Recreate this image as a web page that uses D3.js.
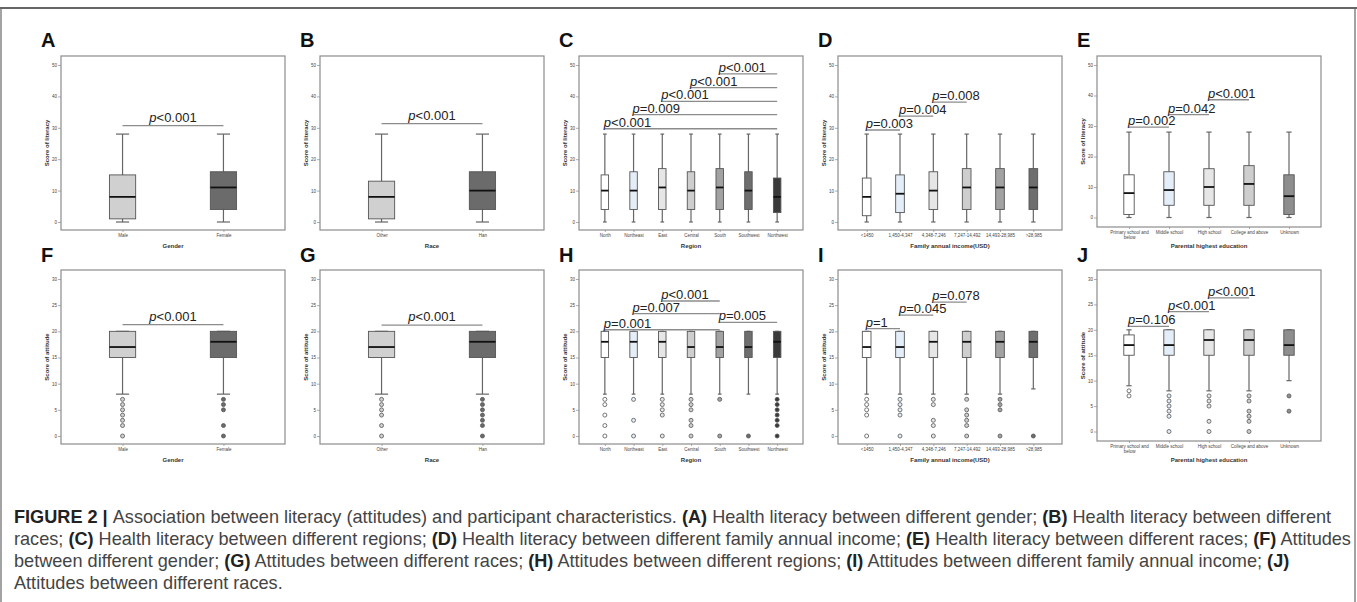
<!DOCTYPE html>
<meta charset="utf-8">
<style>
body { margin: 0; background: #fff; }
svg { display: block; font-family: "Liberation Sans", Arial, sans-serif; }
.frame { fill: none; stroke: #8c8c8c; stroke-width: 1.2px; }
.axis path { display: none; }
.axis line { stroke: #777; stroke-width: 0.6px; }
.axis text { font-size: 4.5px; fill: #444; font-family: "Liberation Sans", Arial, sans-serif; }
.ttl { font-size: 6px; font-weight: bold; fill: #333; }
.whisk { stroke: #666; stroke-width: 1.2px; }
.box { stroke: #555; stroke-width: 0.9px; }
.med { stroke: #111; stroke-width: 1.8px; }
.br { stroke: #8c8c8c; stroke-width: 1.3px; }
.pv { font-size: 13px; fill: #222; }
.lab { font-size: 20px; font-weight: bold; fill: #111; }
</style>
<svg width="1357" height="602"></svg>
<script src="https://cdn.jsdelivr.net/npm/d3@7"></script>
<script>

// categories
var genderCats = ["Male", "Female"];
var raceCats = ["Other", "Han"];
var regionCats = ["North", "Northeast", "East", "Central", "South", "Southwest", "Northwest"];
var incomeCats = ["<1450", "1,450-4,347", "4,348-7,246", "7,247-14,492", "14,493-28,985", ">28,985"];
var eduCats = ["Primary school and below", "Middle school", "High school", "College and above", "Unknown"];

var litTicks = [0, 10, 20, 30, 40, 50];
var attTicks = [0, 5, 10, 15, 20, 25, 30];

// literacy score boxes: [lower whisker, q1, median, q3, upper whisker]
var litGender = [[0, 1, 8, 15, 28], [0, 4, 11, 16, 28]];
var litRace = [[0, 1, 8, 13, 28], [0, 4, 10, 16, 28]];
var litRegion = [[0, 4, 10, 15, 28], [0, 4, 10, 16, 28], [0, 4, 11, 17, 28], [0, 4, 10, 16, 28],
                 [0, 4, 11, 17, 28], [0, 4, 10, 16, 28], [0, 3, 8, 14, 28]];
var litIncome = [[0, 2, 8, 14, 28], [0, 3, 9, 15, 28], [0, 4, 10, 16, 28], [0, 4, 11, 17, 28],
                 [0, 4, 11, 17, 28], [0, 4, 11, 17, 28]];
var litEdu = [[0, 1, 8, 14, 28], [0, 4, 9, 15, 28], [0, 4, 10, 16, 28], [0, 4, 11, 17, 28], [0, 1, 7, 14, 28]];

// attitude score boxes + outliers
var attGender = [[8, 15, 17, 20, 20], [8, 15, 18, 20, 20]];
var attGenderOut = [[7, 6, 5, 4, 3, 2, 0], [7, 6, 5, 2, 0]];
var attRace = [[8, 15, 17, 20, 20], [8, 15, 18, 20, 20]];
var attRaceOut = [[7, 6, 5, 4, 2, 0], [7, 6, 5, 4, 3, 2, 0]];
var attRegion = [[8, 15, 18, 20, 20], [8, 15, 18, 20, 20], [8, 15, 18, 20, 20], [8, 15, 17, 20, 20],
                 [8, 15, 17, 20, 20], [8, 15, 17, 20, 20], [8, 15, 18, 20, 20]];
var attRegionOut = [[7, 6, 4, 2, 0], [7, 3, 0], [7, 6, 5, 4, 0], [7, 6, 5, 3, 2, 0], [7, 0], [0], [7, 6, 5, 4, 3, 2, 0]];
var attIncome = [[8, 15, 17, 20, 20], [8, 15, 17, 20, 20], [8, 15, 18, 20, 20], [8, 15, 18, 20, 20],
                 [8, 15, 18, 20, 20], [9, 15, 18, 20, 20]];
var attIncomeOut = [[7, 6, 5, 4, 0], [7, 6, 5, 4, 0], [7, 6, 3, 2, 0], [7, 5, 4, 3, 2, 0], [7, 6, 5, 0], [0]];
var attEdu = [[9, 15, 17, 19, 20], [8, 15, 17, 20, 20], [8, 15, 18, 20, 20], [8, 15, 18, 20, 20], [10, 15, 17, 20, 20]];
var attEduOut = [[8, 7], [7, 6, 5, 4, 3, 0], [7, 6, 5, 2, 0], [7, 6, 4, 3, 2, 0], [7, 4]];

// p-value brackets (a,b = category index, y = score)
var litGenderP = [{a: 0, b: 1, y: 30.7, t: "<0.001"}];
var litRaceP = [{a: 0, b: 1, y: 31.3, t: "<0.001"}];
var litRegionP = [{a: 0, b: 6, y: 29.7, t: "<0.001"}, {a: 1, b: 6, y: 34.2, t: "=0.009"},
                  {a: 2, b: 6, y: 38.4, t: "<0.001"}, {a: 3, b: 6, y: 42.8, t: "<0.001"},
                  {a: 4, b: 6, y: 47.2, t: "<0.001"}];
var litIncomeP = [{a: 0, b: 1, y: 29.3, t: "=0.003"}, {a: 1, b: 2, y: 33.7, t: "=0.004"}, {a: 2, b: 3, y: 38.2, t: "=0.008"}];
var litEduP = [{a: 0, b: 1, y: 29.6, t: "=0.002"}, {a: 1, b: 2, y: 33.7, t: "=0.042"}, {a: 2, b: 3, y: 38.6, t: "<0.001"}];
var attGenderP = [{a: 0, b: 1, y: 21.3, t: "<0.001"}];
var attRaceP = [{a: 0, b: 1, y: 21.2, t: "<0.001"}];
var attRegionP = [{a: 0, b: 4, y: 20.3, t: "=0.001"}, {a: 1, b: 4, y: 23.4, t: "=0.007"},
                  {a: 2, b: 4, y: 25.8, t: "<0.001"}, {a: 4, b: 6, y: 21.7, t: "=0.005"}];
var attIncomeP = [{a: 0, b: 1, y: 20.5, t: "=1"}, {a: 1, b: 2, y: 23.1, t: "=0.045"}, {a: 2, b: 3, y: 25.6, t: "=0.078"}];
var attEduP = [{a: 0, b: 1, y: 20.7, t: "=0.106"}, {a: 1, b: 2, y: 23.6, t: "<0.001"}, {a: 2, b: 3, y: 26.3, t: "<0.001"}];

var fills2 = ["#d0d0d0", "#6b6b6b"];
var fills7 = ["#ffffff", "#e4eef9", "#e6e6e6", "#cecece", "#a2a2a2", "#6e6e6e", "#3a3a3a"];
var fills6 = ["#ffffff", "#e4eef9", "#e6e6e6", "#cecece", "#a2a2a2", "#6e6e6e"];
var fills5 = ["#ffffff", "#e4eef9", "#e6e6e6", "#cecece", "#8e8e8e"];

var lefts = [61, 320, 579, 838, 1097];
var rows = [
  {top: 56, bottom: 230, zero: 222, max: 50, ticks: litTicks, ytitle: "Score of literacy", titleY: 248, labelY: 47},
  {top: 270, bottom: 444, zero: 436, max: 30, ticks: attTicks, ytitle: "Score of attitude", titleY: 462, labelY: 262}
];

var panels = [
  {k: "A", r: 0, c: 0, cats: genderCats, s: litGender, o: null, f: fills2, p: litGenderP, mid: true, pad: 0.61, xt: "Gender"},
  {k: "B", r: 0, c: 1, cats: raceCats, s: litRace, o: null, f: fills2, p: litRaceP, mid: true, pad: 0.61, xt: "Race"},
  {k: "C", r: 0, c: 2, cats: regionCats, s: litRegion, o: null, f: fills7, p: litRegionP, pad: 0.9, xt: "Region"},
  {k: "D", r: 0, c: 3, cats: incomeCats, s: litIncome, o: null, f: fills6, p: litIncomeP, pad: 0.86, xt: "Family annual income(USD)"},
  {k: "E", r: 0, c: 4, cats: eduCats, s: litEdu, o: null, f: fills5, p: litEduP, pad: 0.8, xt: "Parental highest education", short: true},
  {k: "F", r: 1, c: 0, cats: genderCats, s: attGender, o: attGenderOut, f: fills2, p: attGenderP, mid: true, pad: 0.61, xt: "Gender"},
  {k: "G", r: 1, c: 1, cats: raceCats, s: attRace, o: attRaceOut, f: fills2, p: attRaceP, mid: true, pad: 0.61, xt: "Race"},
  {k: "H", r: 1, c: 2, cats: regionCats, s: attRegion, o: attRegionOut, f: fills7, p: attRegionP, pad: 0.9, xt: "Region"},
  {k: "I", r: 1, c: 3, cats: incomeCats, s: attIncome, o: attIncomeOut, f: fills6, p: attIncomeP, pad: 0.86, xt: "Family annual income(USD)"},
  {k: "J", r: 1, c: 4, cats: eduCats, s: attEdu, o: attEduOut, f: fills5, p: attEduP, pad: 0.8, xt: "Parental highest education", short: true}
];

var svg = d3.select("svg");
svg.append("rect").attr("width", 1357).attr("height", 602).attr("fill", "#fff");

// figure border
svg.append("line").attr("x1", 0).attr("x2", 1357).attr("y1", 8).attr("y2", 8).attr("stroke", "#333").attr("stroke-width", 1.5);
svg.append("line").attr("x1", 1355).attr("x2", 1355).attr("y1", 8).attr("y2", 602).attr("stroke", "#666").attr("stroke-width", 1.2);
svg.append("line").attr("x1", 1).attr("x2", 1).attr("y1", 8).attr("y2", 602).attr("stroke", "#666").attr("stroke-width", 1.2);

panels.forEach(drawPanel);

function drawPanel(p) {
  var row = rows[p.r],
      left = lefts[p.c],
      width = 224,
      top = row.top,
      bottom = p.short ? row.bottom - 3 : row.bottom,
      zero = p.short ? row.zero - 4.5 : row.zero;

  var x = d3.scalePoint().domain(p.cats).range([left, left + width]).padding(p.pad);
  var y = d3.scaleLinear().domain([0, row.max]).range([zero, top + 9]);
  var bw = x.step() * 0.26;
  var g = svg.append("g");

  g.append("text").attr("class", "lab").attr("x", left - 20).attr("y", row.labelY).text(p.k);

  // y axis
  g.append("g").attr("class", "axis")
      .attr("transform", "translate(" + left + ",0)")
      .call(d3.axisLeft(y).tickValues(row.ticks).tickSize(3).tickPadding(1));

  // x axis
  var xa = g.append("g").attr("class", "axis")
      .attr("transform", "translate(0," + bottom + ")")
      .call(d3.axisBottom(x).tickSize(2).tickPadding(2));
  xa.selectAll(".tick text").each(function(d) {
    var t = d3.select(this);
    if (d.length > 20) {
      var i = d.lastIndexOf(" ");
      t.text(null);
      t.append("tspan").attr("x", 0).text(d.slice(0, i));
      t.append("tspan").attr("x", 0).attr("dy", "1.05em").text(d.slice(i + 1));
    }
  });

  g.append("text").attr("class", "ttl")
      .attr("x", left + width / 2).attr("y", row.titleY)
      .attr("text-anchor", "middle").text(p.xt);

  g.append("text").attr("class", "ttl")
      .attr("transform", "translate(" + (left - 12) + "," + ((top + bottom) / 2) + ") rotate(-90)")
      .attr("text-anchor", "middle").text(row.ytitle);

  g.append("rect").attr("class", "frame")
      .attr("x", left).attr("y", top).attr("width", width).attr("height", bottom - top);

  var b = g.selectAll(".bx").data(p.s).enter().append("g");

  b.append("line").attr("class", "whisk")
      .attr("x1", function(d, i) { return x(p.cats[i]); })
      .attr("x2", function(d, i) { return x(p.cats[i]); })
      .attr("y1", function(d) { return y(d[0]); })
      .attr("y2", function(d) { return y(d[4]); });
  [0, 4].forEach(function(j) {
    b.append("line").attr("class", "whisk")
        .attr("x1", function(d, i) { return x(p.cats[i]) - bw / 4; })
        .attr("x2", function(d, i) { return x(p.cats[i]) + bw / 4; })
        .attr("y1", function(d) { return y(d[j]); })
        .attr("y2", function(d) { return y(d[j]); });
  });
  b.append("rect").attr("class", "box")
      .attr("x", function(d, i) { return x(p.cats[i]) - bw / 2; })
      .attr("width", bw)
      .attr("y", function(d) { return y(d[3]); })
      .attr("height", function(d) { return y(d[1]) - y(d[3]); })
      .attr("fill", function(d, i) { return p.f[i]; });
  b.append("line").attr("class", "med")
      .attr("x1", function(d, i) { return x(p.cats[i]) - bw / 2; })
      .attr("x2", function(d, i) { return x(p.cats[i]) + bw / 2; })
      .attr("y1", function(d) { return y(d[2]); })
      .attr("y2", function(d) { return y(d[2]); });

  if (p.o) {
    p.o.forEach(function(vals, i) {
      g.selectAll(null).data(vals).enter().append("circle")
          .attr("cx", x(p.cats[i]))
          .attr("cy", function(v) { return y(v); })
          .attr("r", 2)
          .attr("fill", p.f[i])
          .attr("stroke", "#555")
          .attr("stroke-width", 0.8);
    });
  }

  // p-value brackets
  p.p.forEach(function(q) {
    var x1 = x(p.cats[q.a]), x2 = x(p.cats[q.b]), yy = y(q.y);
    g.append("line").attr("class", "br").attr("x1", x1).attr("x2", x2).attr("y1", yy).attr("y2", yy);
    var t = g.append("text").attr("class", "pv");
    if (p.mid) {
      t.attr("x", (x1 + x2) / 2).attr("y", yy - 4).attr("text-anchor", "middle");
    } else {
      t.attr("x", x1 - 1).attr("y", yy - 2);
    }
    t.append("tspan").attr("font-style", "italic").text("p");
    t.append("tspan").text(q.t);
  });
}

// caption
var capLines = [
  [["FIGURE 2 | ", 1], ["Association between literacy (attitudes) and participant characteristics. ", 0], ["(A)", 1],
   [" Health literacy between different gender; ", 0], ["(B)", 1], [" Health literacy between different", 0]],
  [["races; ", 0], ["(C)", 1], [" Health literacy between different regions; ", 0], ["(D)", 1],
   [" Health literacy between different family annual income; ", 0], ["(E)", 1],
   [" Health literacy between different races; ", 0], ["(F)", 1], [" Attitudes", 0]],
  [["between different gender; ", 0], ["(G)", 1], [" Attitudes between different races; ", 0], ["(H)", 1],
   [" Attitudes between different regions; ", 0], ["(I)", 1], [" Attitudes between different family annual income; ", 0], ["(J)", 1]],
  [["Attitudes between different races.", 0]]
];

var cap = svg.append("g").attr("font-size", 16);
var capText = capLines.map(function(parts, li) {
  var t = cap.append("text").attr("x", 14).attr("y", 523 + li * 22);
  parts.forEach(function(pt) {
    t.append("tspan").text(pt[0])
        .attr("font-weight", pt[1] ? "bold" : null)
        .attr("fill", pt[1] ? "#222" : "#444");
  });
  return t;
});
var w0 = capText[0].node().getComputedTextLength();
cap.attr("font-size", 16 * 1318 / w0);

</script>
